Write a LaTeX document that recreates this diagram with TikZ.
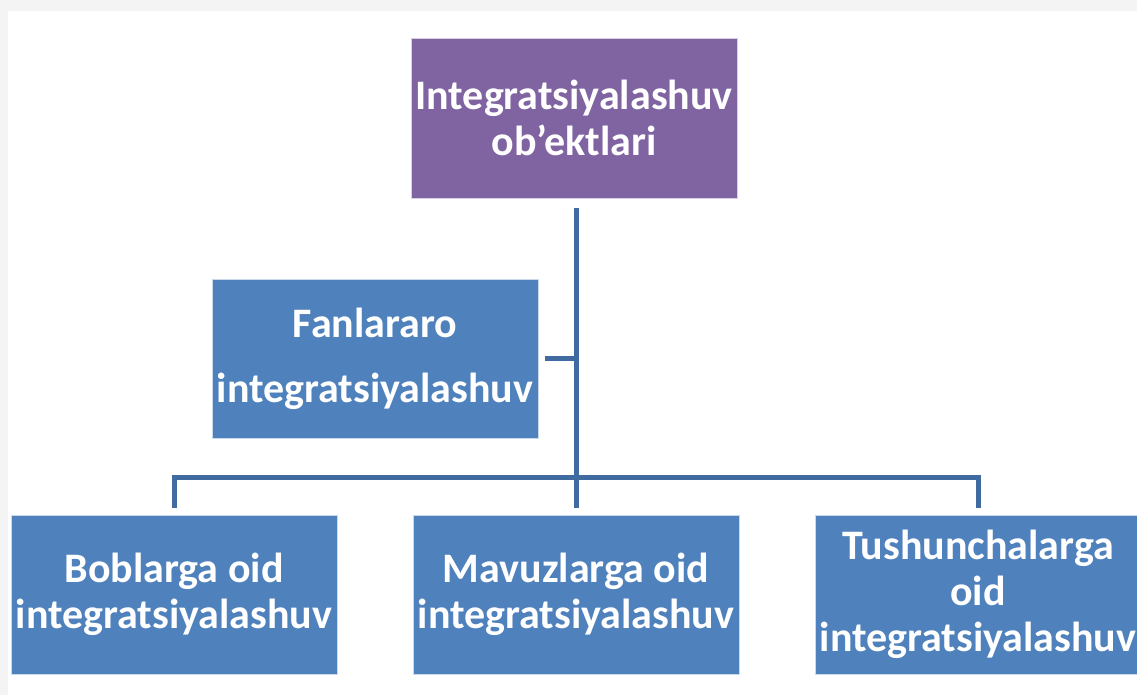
\documentclass[tikz,border=0pt]{standalone}
\usepackage{fontspec}
\setmainfont{Carlito}
\definecolor{objpurple}{HTML}{8064A2}
\definecolor{boxblue}{HTML}{4F81BD}
\definecolor{linkblue}{HTML}{3F6BA0}
\definecolor{pagegray}{HTML}{F4F4F4}
\tikzset{
  box/.style={draw=white!70!boxblue, line width=0.4pt, fill=boxblue, text=white, font=\bfseries\fontsize{21}{23}\selectfont,
    minimum width=163pt, minimum height=79.5pt, inner sep=0pt, outer sep=3.5pt, align=center},
  link/.style={draw=linkblue, line width=2.5pt}
}
\begin{document}
\begin{tikzpicture}[x=0.5pt, y=-0.5pt]
    \useasboundingbox (0,0) rectangle (1137,695);
    \fill[pagegray] (0,0) rectangle (1137,695);
    \fill[white] (8,11) rectangle (1137,695);
    \node[box, fill=objpurple, draw=white!70!objpurple, minimum height=80pt, outer sep=5pt] (obj) at (574,118)
        {Integratsiyalashuv\\ob’ektlari};
    \node[box, font=\bfseries\fontsize{21}{32.5}\selectfont] (fan) at (375,358.5)
        {Fanlararo\\integratsiyalashuv};
    \node[box] (bob) at (174,594.5) {Boblarga oid\\integratsiyalashuv};
    \node[box] (mav) at (576,594.5) {Mavuzlarga oid\\integratsiyalashuv};
    \node[box] (tush) at (978,594.5) {Tushunchalarga\\oid\\integratsiyalashuv};
    \coordinate (hub) at (576,478);
    \draw[link] (obj.south -| hub) -- (hub);
    \draw[link] (fan.east) -- (fan.east -| hub);
    \draw[link] (bob.north) -- (bob.north |- hub) -| (tush.north);
    \draw[link] (hub) -- (mav.north);
\end{tikzpicture}
\end{document}
